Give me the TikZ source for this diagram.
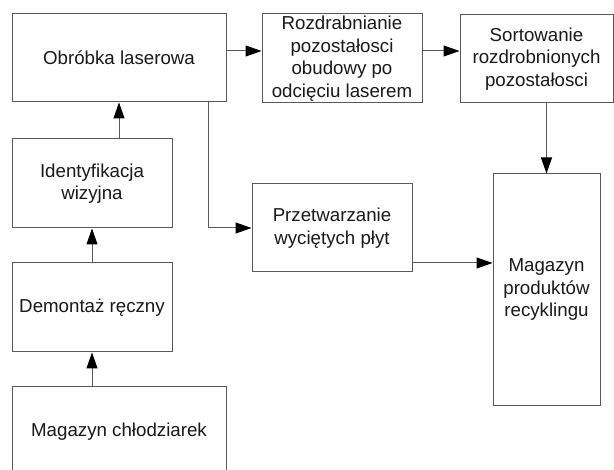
\documentclass[tikz,border=0pt]{standalone}
\usepackage{fontspec}
\setmainfont{Liberation Sans}
\usetikzlibrary{arrows.meta}
\begin{document}
\begin{tikzpicture}[x=1pt,y=-1pt,
  box/.style={draw=black!65, line width=1pt, rectangle, inner sep=0pt, align=center,
    font=\fontsize{18.7}{22.5}\selectfont, text=black!90},
  conn/.style={draw=black!65, line width=1pt, -{Triangle[length=16pt,width=11pt,color=black,fill=black]}}]
\clip (0,0) rectangle (614,470);
\fill[white] (0,0) rectangle (614,470);
\node[box, minimum width=214pt, minimum height=88pt] (obr) at (119,58) {Obróbka laserowa};
\node[box, minimum width=160pt, minimum height=89pt] (ident) at (92,183.5) {Identyfikacja\\wizyjna};
\node[box, minimum width=160pt, minimum height=89pt] (demo) at (92,307.5) {Demontaż ręczny};
\node[box, minimum width=214pt, minimum height=90pt] (magc) at (119,432) {Magazyn chłodziarek};
\node[box, minimum width=160pt, minimum height=89pt] (rozd) at (342,58.5) {Rozdrabnianie\\pozostałosci\\obudowy po\\odcięciu laserem};
\node[box, minimum width=153pt, minimum height=88pt] (sort) at (536.5,59) {Sortowanie\\rozdrobnionych\\pozostałosci};
\node[box, minimum width=160pt, minimum height=88pt] (przet) at (332,228) {Przetwarzanie\\wyciętych płyt};
\node[box, minimum width=107pt, minimum height=232pt] (mag) at (546.5,290) {Magazyn\\produktów\\recyklingu};
\coordinate (yA) at (0,51);
\coordinate (xB) at (208,0);
\coordinate (yC) at (0,263);
\draw[conn] (obr.east |- yA) -- (rozd.west |- yA);
\draw[conn] (rozd.east |- yA) -- (sort.west |- yA);
\draw[conn] (sort.south -| mag.north) -- (mag.north);
\draw[conn] (obr.south -| xB) |- (przet.west);
\draw[conn] (przet.east |- yC) -- (mag.west |- yC);
\draw[conn] (ident.north) -| (obr.south);
\draw[conn] (demo.north) -- (ident.south);
\draw[conn] (magc.north -| demo.south) -- (demo.south);
\end{tikzpicture}
\end{document}
